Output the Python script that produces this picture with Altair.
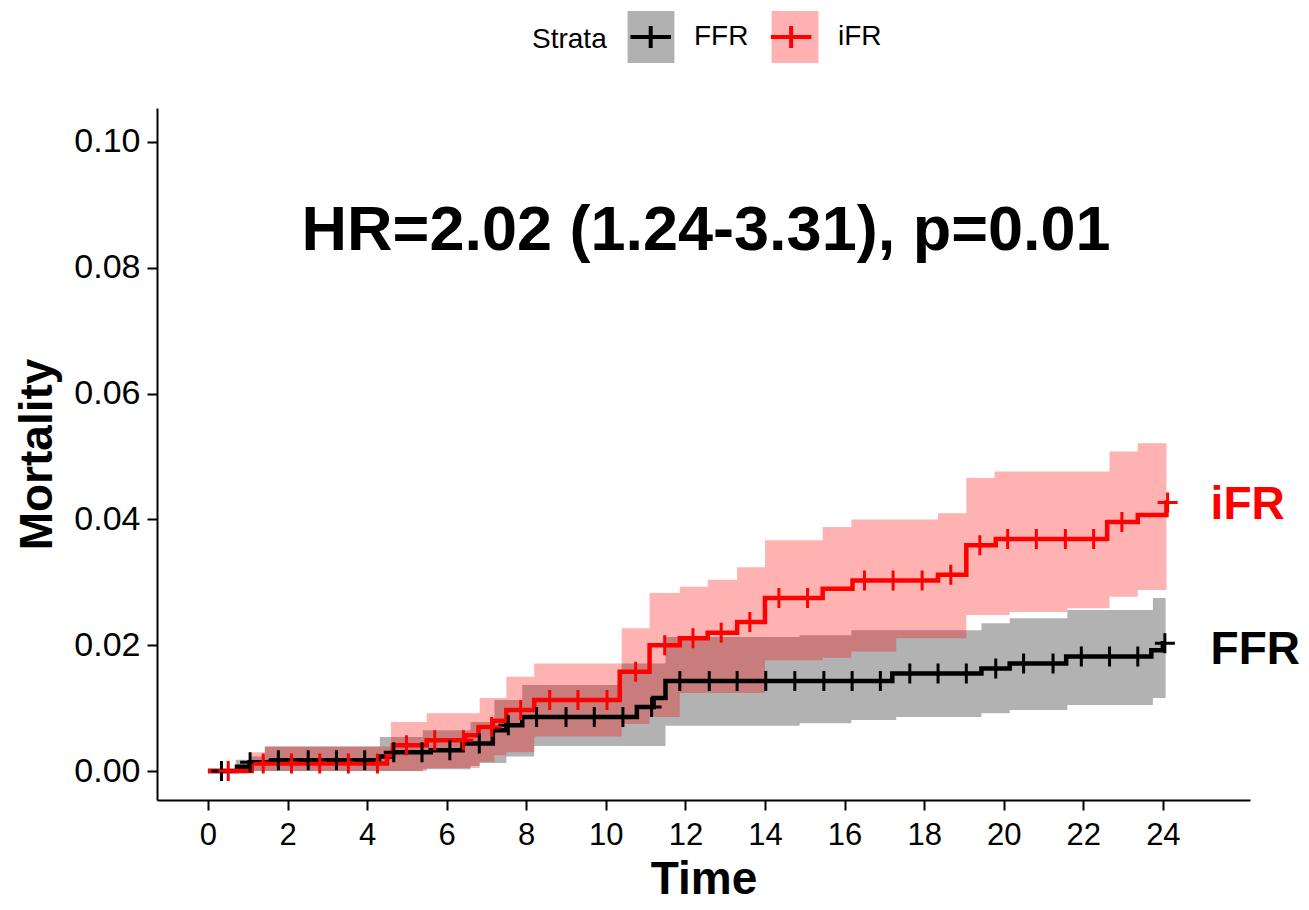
import altair as alt
import pandas as pd
import numpy as np

FONT = "Liberation Sans"

strata_names = ["FFR", "iFR"]
strata_colors = ["#000000", "#FF0000"]

# Kaplan-Meier cumulative mortality (step changes)
ffr_step_time = [0.0, 0.73, 1.05, 1.6, 4.3, 4.65, 5.6, 6.4, 7.16, 7.5, 7.9, 10.78, 11.2, 11.5,
                 17.2, 19.44, 20.15, 21.57, 23.71, 24.0, 24.07]
ffr_step_est = [0.0, 0.0007, 0.0014, 0.0017, 0.0023, 0.003, 0.0033, 0.0044, 0.0065, 0.0073, 0.0086,
                0.0102, 0.0116, 0.0143, 0.0155, 0.0163, 0.0171, 0.0182, 0.0192, 0.0203, 0.0203]

ifr_step_time = [0.0, 1.1, 4.5, 4.65, 5.5, 6.46, 6.8, 7.16, 7.5, 8.2, 10.35, 11.1, 11.86, 12.56,
                 13.3, 14.0, 15.45, 16.2, 18.35, 19.06, 19.8, 22.6, 23.37, 24.09, 24.15]
ifr_step_est = [0.0, 0.0012, 0.0025, 0.0041, 0.0049, 0.0057, 0.007, 0.008, 0.0097, 0.0113, 0.0158,
                0.02, 0.0211, 0.022, 0.0237, 0.0275, 0.029, 0.0303, 0.0312, 0.0359, 0.0369, 0.0396,
                0.0407, 0.0427, 0.0427]

# confidence bands
ffr_band_time = [0.0, 0.7, 1.05, 1.43, 4.32, 5.4, 6.6, 6.83, 7.2, 7.5, 7.9, 8.2, 10.4, 11.5,
                 14.87, 16.17, 17.3, 19.44, 20.15, 21.6, 23.75, 24.07]
ffr_band_lower = [0.0, 0.0, 0.0, 0.0, 0.0, 0.0003, 0.0008, 0.0013, 0.0013, 0.0023, 0.0023, 0.004,
                  0.004, 0.0072, 0.0076, 0.0081, 0.0086, 0.0092, 0.0097, 0.0105, 0.0116, 0.0116]
ffr_band_upper = [0.0, 0.0018, 0.0023, 0.0039, 0.0054, 0.0065, 0.0078, 0.0078, 0.0113, 0.0113,
                  0.0137, 0.0137, 0.0171, 0.0213, 0.0216, 0.0224, 0.0224, 0.0235, 0.0243, 0.0256,
                  0.0275, 0.0275]

ifr_band_time = [0.0, 1.1, 1.43, 4.6, 5.5, 6.83, 7.2, 7.5, 8.2, 10.4, 11.1, 11.86, 12.56, 13.3,
                 14.0, 15.45, 16.17, 17.3, 18.35, 19.06, 19.77, 20.15, 21.6, 22.66, 23.37, 24.09]
ifr_band_lower = [0.0, 0.0, 0.0, 0.0, 0.0005, 0.0015, 0.0025, 0.003, 0.0055, 0.0075, 0.0086,
                  0.0124, 0.0124, 0.0124, 0.0176, 0.018, 0.019, 0.0211, 0.0211, 0.0248, 0.0248,
                  0.0253, 0.0259, 0.0277, 0.0288, 0.0288]
ifr_band_upper = [0.0, 0.003, 0.0039, 0.0078, 0.0092, 0.0116, 0.0116, 0.015, 0.0171, 0.0227,
                  0.0283, 0.0293, 0.0304, 0.0324, 0.0367, 0.0388, 0.04, 0.04, 0.041, 0.0466,
                  0.0476, 0.0476, 0.0476, 0.0508, 0.0521, 0.0521]

# censoring marks
ffr_censor_time = [0.34, 1.06, 1.77, 2.52, 3.23, 3.94, 4.67, 5.38, 6.08, 6.82, 7.55, 8.26, 9.0,
                   9.71, 10.43, 11.15, 11.86, 12.6, 13.3, 14.02, 14.75, 15.48, 16.19, 16.9, 17.64,
                   18.35, 19.06, 19.8, 20.5, 21.24, 21.95, 22.66, 23.37, 24.05]
ifr_censor_time = [0.51, 1.39, 2.1, 2.81, 3.53, 4.26, 4.99, 5.7, 6.42, 7.13, 7.86, 8.59, 9.3,
                   10.03, 10.75, 11.48, 12.19, 12.9, 13.62, 14.35, 15.07, 16.5, 17.22, 17.95,
                   18.67, 19.4, 20.1, 20.82, 21.55, 22.26, 22.97, 24.12]

x_ticks = list(range(0, 25, 2))
y_ticks = [0.0, 0.02, 0.04, 0.06, 0.08, 0.10]

annotation_text = ["HR=2.02 (1.24-3.31), p=0.01"]
annotation_time = [12.52]
annotation_y = [0.0828]

end_label_time = [25.2, 25.2]
end_label_y = [0.0192, 0.0423]

# ---- tables ----
def step_value(times, values, t):
    idx = np.searchsorted(np.asarray(times), t, side="right") - 1
    return float(np.asarray(values)[max(idx, 0)])

lines = pd.concat([
    pd.DataFrame({"time": ffr_step_time, "est": ffr_step_est, "strata": "FFR"}),
    pd.DataFrame({"time": ifr_step_time, "est": ifr_step_est, "strata": "iFR"}),
])
bands = pd.concat([
    pd.DataFrame({"time": ffr_band_time, "lower": ffr_band_lower, "upper": ffr_band_upper, "band": "FFR"}),
    pd.DataFrame({"time": ifr_band_time, "lower": ifr_band_lower, "upper": ifr_band_upper, "band": "iFR"}),
])
censor = pd.concat([
    pd.DataFrame({"time": ffr_censor_time,
                  "est": [step_value(ffr_step_time, ffr_step_est, t) for t in ffr_censor_time],
                  "strata": "FFR"}),
    pd.DataFrame({"time": ifr_censor_time,
                  "est": [step_value(ifr_step_time, ifr_step_est, t) for t in ifr_censor_time],
                  "strata": "iFR"}),
])
ann = pd.DataFrame({"time": annotation_time, "y": annotation_y, "text": annotation_text})
endlab = pd.DataFrame({"time": end_label_time, "y": end_label_y, "strata": strata_names})

xscale = alt.Scale(domain=[-1.28, 26.19], nice=False, zero=False)
yscale = alt.Scale(domain=[-0.0046, 0.1054], nice=False, zero=False)

axis_common = dict(
    labelFont=FONT, labelColor="#000000",
    titleFont=FONT, titleFontSize=46, titleFontWeight="bold", titleColor="#000000",
    domainColor="#000000", domainWidth=2, tickColor="#000000", tickWidth=2, tickSize=10,
    grid=False,
)
x_axis = alt.Axis(values=x_ticks, format="d", title="Time", labelFontSize=31,
                  labelPadding=10, titlePadding=7, **axis_common)
y_axis = alt.Axis(values=y_ticks, format=".2f", title="Mortality", labelFontSize=34,
                  labelPadding=7, titlePadding=12, **axis_common)

# legend: a box legend (bands) with a cross legend (lines) drawn exactly on top of it
LEG_X = 375
LEG_Y = -99
LEG_FONT = 28
TITLE_PAD = 16
COL_PAD = 14
title_w = 2.668 * LEG_FONT     # width of "Strata"
label_w = 1.944 * LEG_FONT     # width of "FFR"
BOX_PATH = "M-0.9,-1H0.9V1H-0.9Z"
CROSS_PATH = "M-0.78,0H0.78M0,-0.42V0.42"
legend_common = dict(
    orient="none", legendY=LEG_Y, direction="horizontal",
    labelFont=FONT, labelFontSize=LEG_FONT, labelColor="#000000", labelOffset=15,
    symbolSize=2704, symbolStrokeWidth=4,
)

fill_legend = alt.Legend(
    legendX=LEG_X, title="Strata", titleOrient="left", titleFont=FONT, titleFontSize=LEG_FONT,
    titleFontWeight="normal", titleColor="#000000", titlePadding=TITLE_PAD, titleBaseline="middle",
    titleAnchor="middle", columnPadding=COL_PAD,
    symbolType=BOX_PATH, symbolOpacity=0.3, symbolStrokeColor="transparent", zindex=0,
    **legend_common)
stroke_legend = alt.Legend(
    legendX=LEG_X + title_w + TITLE_PAD, title="", labelExpr="''",
    columnPadding=COL_PAD + label_w,
    symbolType=CROSS_PATH, symbolFillColor="transparent", symbolOpacity=1, zindex=1,
    **legend_common)

# fill scale domain left data-driven (sorted: FFR, iFR) so the two legends stay separate
band_layer = alt.Chart(bands).mark_area(interpolate="step-after", opacity=0.3).encode(
    x=alt.X("time:Q", scale=xscale, axis=x_axis),
    y=alt.Y("lower:Q", scale=yscale, axis=y_axis, stack=None),
    y2="upper:Q",
    fill=alt.Fill("band:N", scale=alt.Scale(range=["#000000", "#FF0000"]),
                  sort="ascending", legend=fill_legend),
)

stroke_enc = alt.Stroke("strata:N", scale=alt.Scale(domain=strata_names, range=strata_colors),
                        legend=stroke_legend)

line_layer = alt.Chart(lines).mark_line(interpolate="step-after", strokeWidth=4.5).encode(
    x=alt.X("time:Q", scale=xscale),
    y=alt.Y("est:Q", scale=yscale),
    stroke=stroke_enc,
)

censor_layer = alt.Chart(censor).mark_point(
    shape="M-1,0H1M0,-1V1", size=400, filled=False, strokeWidth=3, opacity=1
).encode(
    x=alt.X("time:Q", scale=xscale),
    y=alt.Y("est:Q", scale=yscale),
    stroke=stroke_enc,
)

ann_layer = alt.Chart(ann).mark_text(
    font=FONT, fontSize=63, fontWeight="bold", align="center", baseline="alphabetic", color="#000000"
).encode(
    x=alt.X("time:Q", scale=xscale),
    y=alt.Y("y:Q", scale=yscale),
    text="text:N",
)

end_layer = alt.Chart(endlab).mark_text(
    font=FONT, fontSize=46, fontWeight="bold", align="left", baseline="middle"
).encode(
    x=alt.X("time:Q", scale=xscale),
    y=alt.Y("y:Q", scale=yscale),
    text="strata:N",
    color=alt.Color("strata:N", scale=alt.Scale(domain=strata_names, range=strata_colors), legend=None),
)

chart = alt.layer(band_layer, line_layer, censor_layer, ann_layer, end_layer).properties(
    width=1093, height=692,
    autosize=alt.AutoSizeParams(type="none"),
    padding={"left": 149, "top": 100, "right": 50, "bottom": 102},
).configure_view(stroke=None)

chart.save("out.html", embed_options={"renderer": "svg", "actions": False})
